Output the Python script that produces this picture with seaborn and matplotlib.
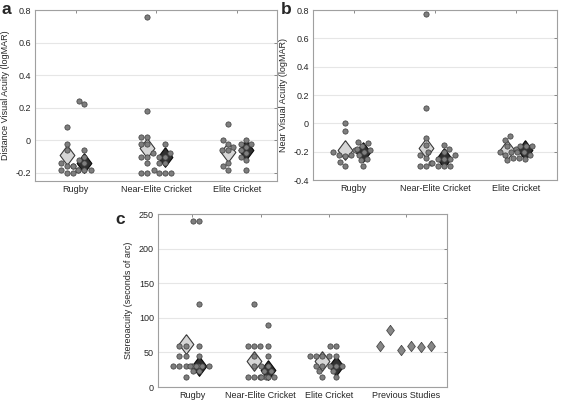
import numpy as np
import pandas as pd
import matplotlib
matplotlib.use("Agg")
import matplotlib.pyplot as plt
from matplotlib.path import Path
from matplotlib.ticker import FuncFormatter
import seaborn as sns

sports = ["Rugby", "Near-Elite Cricket", "Elite Cricket"]
stereo_labels = sports + ["Previous Studies"]

# (a) distance visual acuity (logMAR); _l = light-diamond group, _d = dark-diamond group
dva_rugby_l = [0.08, -0.02, -0.06, -0.14, -0.16, -0.16, -0.18, -0.18, -0.2, -0.2]
dva_rugby_d = [0.24, 0.22, -0.06, -0.1, -0.12, -0.14, -0.16, -0.18, -0.18, -0.18]
dva_nec_l = [0.76, 0.18, 0.02, 0.02, -0.02, -0.02, -0.08, -0.1, -0.1, -0.14, -0.2, -0.2]
dva_nec_d = [-0.02, -0.08, -0.1, -0.1, -0.14, -0.14, -0.18, -0.2, -0.2, -0.2]
dva_elite_l = [0.1, 0.0, -0.02, -0.04, -0.06, -0.06, -0.14, -0.16, -0.18]
dva_elite_d = [0.0, -0.02, -0.02, -0.04, -0.06, -0.08, -0.1, -0.12, -0.18]
dva_mean_l = [-0.09, -0.05, -0.07]
dva_mean_d = [-0.14, -0.10, -0.06]

# (b) near visual acuity (logMAR)
nva_rugby_l = [0.0, -0.05, -0.19, -0.2, -0.22, -0.22, -0.23, -0.27, -0.3]
nva_rugby_d = [-0.13, -0.14, -0.16, -0.18, -0.19, -0.2, -0.22, -0.25, -0.26, -0.3]
nva_nec_l = [0.77, 0.11, -0.1, -0.15, -0.2, -0.22, -0.24, -0.28, -0.3, -0.3]
nva_nec_d = [-0.15, -0.18, -0.2, -0.22, -0.25, -0.25, -0.25, -0.28, -0.3, -0.3, -0.3]
nva_elite_l = [-0.09, -0.12, -0.16, -0.18, -0.2, -0.2, -0.22, -0.24, -0.26]
nva_elite_d = [-0.16, -0.16, -0.16, -0.2, -0.2, -0.22, -0.24, -0.25]
nva_mean_l = [-0.19, -0.17, -0.19]
nva_mean_d = [-0.20, -0.24, -0.19]

# (c) stereoacuity (seconds of arc)
st_rugby_l = [60, 60, 45, 45, 30, 30, 30, 30, 30, 15]
st_rugby_d = [240, 240, 120, 60, 45, 30, 30, 30, 30, 22.5, 22.5]
st_nec_l = [120, 60, 60, 60, 45, 30, 15, 15, 15, 15]
st_nec_d = [90, 60, 45, 30, 30, 22.5, 22.5, 15, 15, 15]
st_elite_l = [45, 45, 45, 45, 30, 30, 22.5, 15]
st_elite_d = [60, 60, 45, 30, 30, 30, 22.5, 15]
st_mean_l = [62, 37, 37]
st_mean_d = [30, 25, 30]
prev_studies = [60, 82, 54, 60, 58, 60]

DOT, DOT_EDGE = "#7e7e7e", "#3c3c3c"
LIGHT, DARK, PREV = "#d6d6d6", "#303030", "#878787"
DIAMOND = Path([(0, 1), (0.75, 0), (0, -1), (-0.75, 0), (0, 1)])

sns.set_style("white")
plt.rcParams["font.family"] = ["Liberation Sans", "DejaVu Sans"]
plt.rcParams["axes.unicode_minus"] = False


def long_form(groups, shift):
    rows = [(i + shift, v) for i, vals in enumerate(groups) for v in vals]
    return pd.DataFrame(rows, columns=["x", "value"])


def draw_groups(ax, light, dark, mean_l, mean_d, shift):
    for groups, means, face, edge, s in [(light, mean_l, LIGHT, "#3a3a3a", -shift),
                                        (dark, mean_d, DARK, "#0a0a0a", shift)]:
        sns.scatterplot(x=np.arange(len(means)) + s, y=means, marker=DIAMOND, s=200,
                        color=face, edgecolor=edge, linewidth=0.8, zorder=2,
                        legend=False, ax=ax)
        df = long_form(groups, s)
        sns.swarmplot(data=df, x="x", y="value", native_scale=True, orient="x",
                      color=DOT, size=3.8, edgecolor=DOT_EDGE, linewidth=0.5,
                      warn_thresh=1, zorder=3, ax=ax)


def style_axes(ax, ticks, labels, ylabel):
    ax.set_xticks(ticks, labels)
    ax.set_xlabel("")
    ax.set_ylabel(ylabel, fontsize=6.5, color="#262626")
    ax.yaxis.set_major_formatter(FuncFormatter(lambda v, p: f"{v:g}"))
    ax.grid(axis="y", color="#e6e6e6", linewidth=0.8)
    ax.set_axisbelow(True)
    ax.tick_params(direction="in", length=2.5, width=0.6, color="#777777",
                   labelsize=6.5, labelcolor="#262626", top=True, right=True, pad=3)
    for sp in ax.spines.values():
        sp.set_color("#a0a0a0")
        sp.set_linewidth(0.8)


fig = plt.figure(figsize=(5.67, 4.04), dpi=100)
ax_a = fig.add_axes([0.062, 0.552, 0.427, 0.423])
ax_b = fig.add_axes([0.552, 0.554, 0.430, 0.421])
ax_c = fig.add_axes([0.279, 0.042, 0.510, 0.428])

draw_groups(ax_a, [dva_rugby_l, dva_nec_l, dva_elite_l],
            [dva_rugby_d, dva_nec_d, dva_elite_d], dva_mean_l, dva_mean_d, 0.11)
ax_a.set_xlim(-0.5, 2.5)
ax_a.set_ylim(-0.25, 0.8)
ax_a.set_yticks(np.arange(-0.2, 0.81, 0.2))
style_axes(ax_a, range(3), sports, "Distance Visual Acuity (logMAR)")

draw_groups(ax_b, [nva_rugby_l, nva_nec_l, nva_elite_l],
            [nva_rugby_d, nva_nec_d, nva_elite_d], nva_mean_l, nva_mean_d, 0.11)
ax_b.set_xlim(-0.5, 2.5)
ax_b.set_ylim(-0.4, 0.8)
ax_b.set_yticks(np.arange(-0.4, 0.81, 0.2))
style_axes(ax_b, range(3), sports, "Near Visual Acuity (logMAR)")

draw_groups(ax_c, [st_rugby_l, st_nec_l, st_elite_l],
            [st_rugby_d, st_nec_d, st_elite_d], st_mean_l, st_mean_d, 0.1)
PREV_X = 3.12
prev_x = PREV_X + np.linspace(-0.375, 0.375, len(prev_studies))
sns.scatterplot(x=prev_x, y=prev_studies, marker=DIAMOND, s=55, color=PREV,
                edgecolor="#4a4a4a", linewidth=0.6, zorder=3, legend=False, ax=ax_c)
ax_c.set_xlim(-0.5, 3.73)
ax_c.set_ylim(0, 250)
ax_c.set_yticks(range(0, 251, 50))
style_axes(ax_c, [0, 1, 2, PREV_X], stereo_labels, "Stereoacuity (seconds of arc)")

for x, y, letter in [(0.003, 0.995, "a"), (0.495, 0.995, "b"), (0.204, 0.475, "c")]:
    fig.text(x, y, letter, fontsize=12.5, fontweight="bold", va="top", ha="left")

fig.savefig("out.png", dpi=100)
